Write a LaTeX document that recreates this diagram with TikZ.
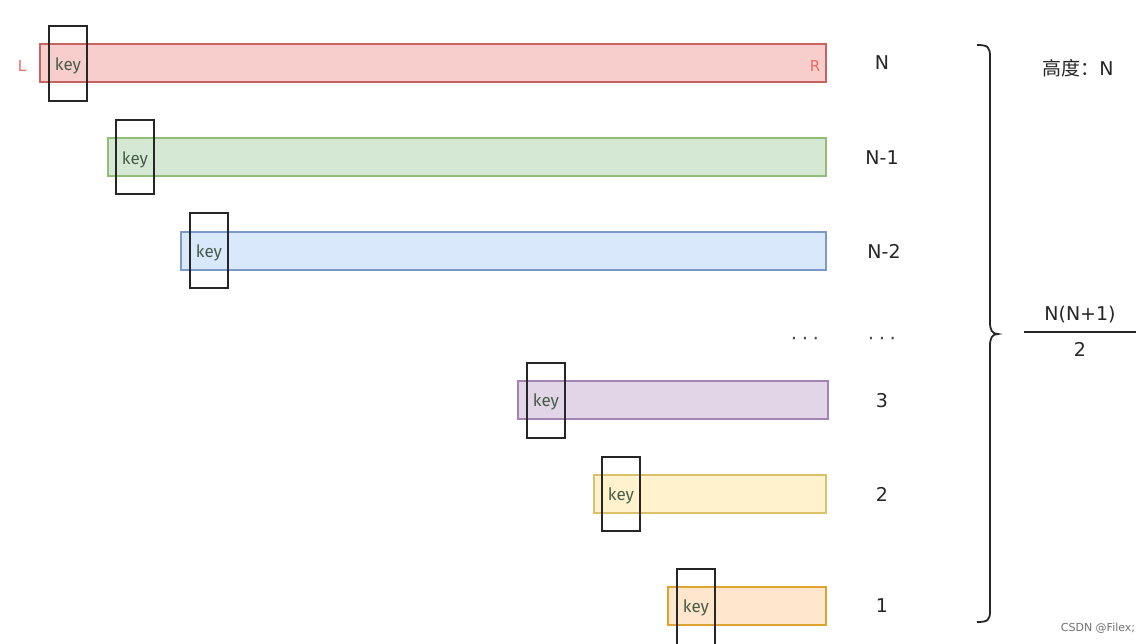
\documentclass[tikz,border=0pt]{standalone}
\usepackage{fontspec}
\setmainfont{DejaVu Sans}
\newfontfamily\cjk{Noto Sans CJK SC}
\newfontfamily\keyfont{Fira Sans}
\begin{document}
\begin{tikzpicture}[x=1pt,y=-1pt,
  bar/.style={line width=1.3pt},
  keybox/.style={draw=black!85,line width=1.6pt,inner sep=0pt},
  keytext/.style={font=\keyfont\fontsize{17}{17}\selectfont,text=keygreen},
  lbl/.style={font=\fontsize{19}{19}\selectfont,text=black!85},
  dots/.style={font=\fontsize{20}{20}\selectfont,text=black!70},
]
\definecolor{keygreen}{HTML}{465E48}
\definecolor{redfill}{HTML}{F8CECC}\definecolor{redline}{HTML}{C86460}
\definecolor{grnfill}{HTML}{D5E8D4}\definecolor{grnline}{HTML}{92BD78}
\definecolor{blufill}{HTML}{DAE8FC}\definecolor{bluline}{HTML}{7C9AC8}
\definecolor{purfill}{HTML}{E1D5E7}\definecolor{purline}{HTML}{A283B2}
\definecolor{yelfill}{HTML}{FFF2CC}\definecolor{yelline}{HTML}{DCC06A}
\definecolor{orafill}{HTML}{FFE6CC}\definecolor{oraline}{HTML}{DDA530}
\definecolor{lrcol}{HTML}{EA6B66}
\useasboundingbox[fill=white] (0,0) rectangle (1148,644);
% bars
\draw[bar,fill=redfill,draw=redline] (40,44) rectangle (826,82);
\draw[bar,fill=grnfill,draw=grnline] (108,138) rectangle (826,176);
\draw[bar,fill=blufill,draw=bluline] (181,232) rectangle (826,270);
\draw[bar,fill=purfill,draw=purline] (518,381) rectangle (828,419);
\draw[bar,fill=yelfill,draw=yelline] (594,475) rectangle (826,513);
\draw[bar,fill=orafill,draw=oraline] (668,587) rectangle (826,625);
% key boxes
\draw[keybox] (49,26) rectangle (87,101);
\draw[keybox] (116,120) rectangle (154,194);
\draw[keybox] (190,213) rectangle (228,288);
\draw[keybox] (527,363) rectangle (565,438);
\draw[keybox] (602,457) rectangle (640,531);
\draw[keybox] (677,569) rectangle (715,645);
\node[keytext] (k1) at (68,66) {key};
\node[keytext] (k2) at (135,160) {key};
\node[keytext] (k3) at (209,253) {key};
\node[keytext] (k4) at (546,402) {key};
\node[keytext] (k5) at (621,496) {key};
\node[keytext] (k6) at (696,608) {key};
% L R
\node[font=\fontsize{15}{15}\selectfont,text=lrcol] (L) at (22,66) {L};
\node[font=\fontsize{15}{15}\selectfont,text=lrcol] (R) at (815,66) {R};
% labels
\node[lbl] (n0) at (882,63) {N};
\node[lbl] (n1) at (882,158) {N-1};
\node[lbl] (n2) at (884,251) {N-2};
\node[dots] (d1) at (805,341) {·\kern4.5pt·\kern4.5pt·};
\node[dots] (d2) at (882,341) {·\kern4.5pt·\kern4.5pt·};
\node[lbl] (n3) at (882,401) {3};
\node[lbl] (n4) at (882,494) {2};
\node[lbl] (n5) at (882,606) {1};
% brace
\draw[line width=1.8pt,black!85] (977,45) .. controls (988,45) and (990,47) .. (990,57) -- (990,322)
  .. controls (990,330) and (992,334) .. (998,334)
  .. controls (992,334) and (990,338) .. (990,346) -- (990,611)
  .. controls (990,620) and (988,622) .. (977,622);
% right texts
\node[font=\fontsize{19}{19}\selectfont,text=black!85] (h) at (1078,68) {{\cjk 高度：}N};
\node[font=\fontsize{19}{19}\selectfont,text=black!85] (num) at (1080,315) {N(N+1)};
\draw[line width=1.3pt,black!85] (1024,332) -- (1136,332);
\node[font=\fontsize{19}{19}\selectfont,text=black!85] (den) at (1080,349) {2};
\node[font=\fontsize{11}{11}\selectfont,text=black!55] (wm) at (1098,628) {CSDN @Filex;};
\end{tikzpicture}
\end{document}
